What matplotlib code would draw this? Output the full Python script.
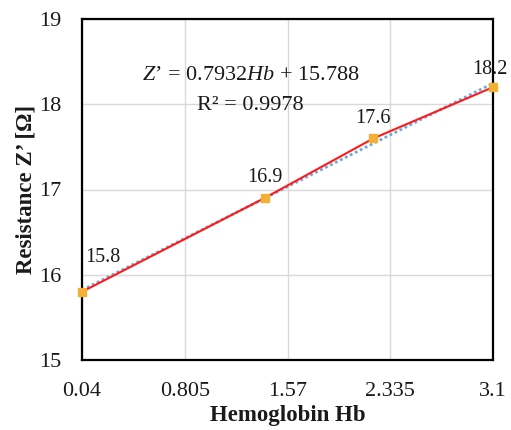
import matplotlib
matplotlib.use("Agg")
import matplotlib.pyplot as plt
import numpy as np

# Measured data
hb = [0.04, 1.40, 2.21, 3.10]
resistance = [15.8, 16.9, 17.6, 18.2]
point_labels = ["15.8", "16.9", "17.6", "18.2"]

# Linear fit reported on the chart
slope = 0.7932
intercept = 15.788
r_squared = 0.9978

x_ticks = [0.04, 0.805, 1.57, 2.335, 3.1]
x_tick_labels = ["0.04", "0.805", "1.57", "2.335", "3.1"]
y_ticks = [15, 16, 17, 18, 19]

plt.rcParams["font.family"] = ["Liberation Serif", "DejaVu Serif"]
plt.rcParams["mathtext.fontset"] = "custom"
plt.rcParams["mathtext.it"] = "Liberation Serif:italic"
plt.rcParams["mathtext.rm"] = "Liberation Serif"

fig = plt.figure(figsize=(5.11, 4.30), dpi=100)
ax = fig.add_axes([82 / 511, 1 - 360 / 430, (493 - 82) / 511, (360 - 19) / 430])

ax.set_xlim(x_ticks[0], x_ticks[-1])
ax.set_ylim(15, 19)
ax.set_xticks(x_ticks)
ax.set_xticklabels(x_tick_labels)
ax.set_yticks(y_ticks)
ax.grid(True, color="#d9d9d9", linewidth=1.0)
ax.set_axisbelow(True)

for s in ax.spines.values():
    s.set_linewidth(1.6)
    s.set_color("black")

ax.tick_params(axis="x", length=0, labelsize=16, pad=16, colors="#1a1a1a")
ax.tick_params(axis="y", length=0, labelsize=16, pad=15, colors="#1a1a1a")

# Trend line
xt = np.array([hb[0], hb[-1]])
ax.plot(xt, slope * xt + intercept, color="#6fa8dc", linestyle=(0, (1, 1)),
        linewidth=2.0, zorder=3)

# Data line and markers
ax.plot(hb, resistance, color="#ff1a1a", linewidth=1.5, zorder=4)
ax.plot(hb, resistance, linestyle="none", marker="s", markersize=5.5,
        color="#f4b034", zorder=5, clip_on=False)

offsets = [(15, 25), (0, 14.5), (0, 14), (-2, 13)]
for x, y, lab, (dx, dy) in zip(hb, resistance, point_labels, offsets):
    ax.annotate(lab, (x, y), xytext=(dx, dy), textcoords="offset points",
                ha="center", va="center", fontsize=14.5, color="#1a1a1a",
                annotation_clip=False)

ax.text(0.41, 0.835, "$Z$’ = %.4f$Hb$ + %.3f" % (slope, intercept),
        transform=ax.transAxes, ha="center", va="center", fontsize=16,
        color="#1a1a1a")
ax.text(0.41, 0.745, "R² = %.4f" % r_squared, transform=ax.transAxes,
        ha="center", va="center", fontsize=16, color="#1a1a1a")

ax.set_xlabel("Hemoglobin Hb", fontsize=16.5, fontweight="bold", labelpad=3,
              color="#1a1a1a")
ax.set_ylabel("Resistance Z’ [Ω]", fontsize=16.5, fontweight="bold", labelpad=2,
              color="#1a1a1a")

fig.savefig("out.png", dpi=100)
